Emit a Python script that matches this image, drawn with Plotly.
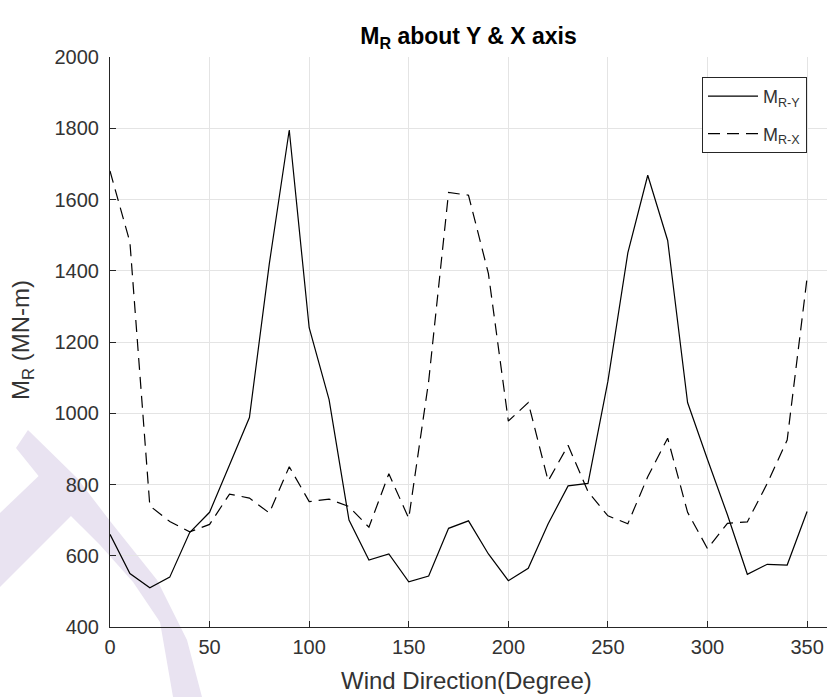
import plotly.graph_objects as go

# ---------------- data ----------------
wind_dir = [0, 10, 20, 30, 40, 50, 60, 70, 80, 90, 100, 110, 120, 130, 140, 150, 160, 170,
            180, 190, 200, 210, 220, 230, 240, 250, 260, 270, 280, 290, 300, 310, 320, 330, 340, 350]
m_ry = [660, 550, 510, 540, 665, 722, 855, 988, 1420, 1795, 1240, 1038, 700, 588, 605, 527, 543, 677,
        698, 605, 530, 565, 690, 796, 803, 1090, 1450, 1668, 1485, 1030, 870, 715, 548, 576, 574, 724]
m_rx = [1680, 1480, 740, 696, 667, 688, 773, 762, 720, 850, 752, 759, 738, 680, 830, 705, 1090, 1620,
        1612, 1392, 978, 1030, 810, 910, 780, 712, 690, 822, 930, 722, 620, 691, 695, 803, 925, 1380]
x_ticks = [0, 50, 100, 150, 200, 250, 300, 350]
y_ticks = [400, 600, 800, 1000, 1200, 1400, 1600, 1800, 2000]

# ---------------- layout geometry ----------------
W, H = 829, 697
L, R, T, B = 110, 2, 57, 70
PW, PH = W - L - R, H - T - B


def px2paper(px, py):
    return (px - L) / PW, (H - B - py) / PH


FONT = "Liberation Sans, Arial, Helvetica, sans-serif"
TXT = "#262626"

fig = go.Figure()
fig.add_trace(go.Scatter(x=wind_dir, y=m_ry, mode="lines", name="M<sub>R-Y</sub>", legendgroup="a",
                         line=dict(color="black", width=1.2)))
fig.add_trace(go.Scatter(x=wind_dir, y=m_rx, mode="lines", name="M<sub>R-X</sub>", legendgroup="b",
                         line=dict(color="black", width=1.2, dash="12px,7px")))

# faint watermark band (decoration)
arc = [(28, 430), (77, 478), (110, 521), (157, 580), (187, 640), (202, 697),
       (173, 697), (160, 622), (133, 582), (100, 545), (70, 515), (16, 448)]
limb = [(0, 513), (45, 470), (75, 512), (0, 587)]


def to_path(poly):
    pts = [px2paper(a, b) for a, b in poly]
    return "M " + " L ".join(f"{a:.4f},{b:.4f}" for a, b in pts) + " Z"


for poly in (limb, arc):
    fig.add_shape(type="path", path=to_path(poly), xref="paper", yref="paper",
                  layer="below", fillcolor="rgb(233,227,241)", line=dict(width=0))

axis_common = dict(showline=True, linecolor=TXT, linewidth=1, mirror=False,
                   ticks="inside", ticklen=6, tickcolor=TXT, tickwidth=1,
                   showgrid=True, gridcolor="#e4e4e4", gridwidth=1, zeroline=False,
                   tickfont=dict(family=FONT, size=20, color="#333333"))

fig.update_layout(
    width=W, height=H,
    margin=dict(l=L, r=R, t=T, b=B),
    paper_bgcolor="white", plot_bgcolor="rgba(0,0,0,0)",
    showlegend=True,
    title=dict(text="<b>M<sub>R</sub> about Y & X axis</b>", x=0.5, xref="paper", xanchor="center",
               y=1 - 36 / H, yref="container", yanchor="middle",
               font=dict(family=FONT, size=23, color="black")),
    xaxis=dict(range=[0, 360], tickvals=x_ticks, ticklabelstandoff=2, **axis_common),
    yaxis=dict(range=[400, 2000], tickvals=y_ticks, ticklabelstandoff=6, **axis_common),
    legend=dict(x=px2paper(807, 0)[0], y=px2paper(0, 77)[1], xanchor="right", yanchor="top",
                bordercolor=TXT, borderwidth=1, bgcolor="white", tracegroupgap=11,
                traceorder="grouped",
                font=dict(family=FONT, size=18, color="#333333"), itemwidth=50),
)

xl = px2paper(466, 680)
yl = px2paper(22, 340)
fig.add_annotation(text="Wind Direction(Degree)", x=xl[0], y=xl[1], xref="paper", yref="paper",
                   xanchor="center", yanchor="middle", showarrow=False,
                   font=dict(family=FONT, size=24, color="#333333"))
fig.add_annotation(text="M<sub>R</sub> (MN-m)", x=yl[0], y=yl[1], xref="paper", yref="paper",
                   xanchor="center", yanchor="middle", showarrow=False, textangle=-90,
                   font=dict(family=FONT, size=24, color="#333333"))

fig.write_html("out.html")
